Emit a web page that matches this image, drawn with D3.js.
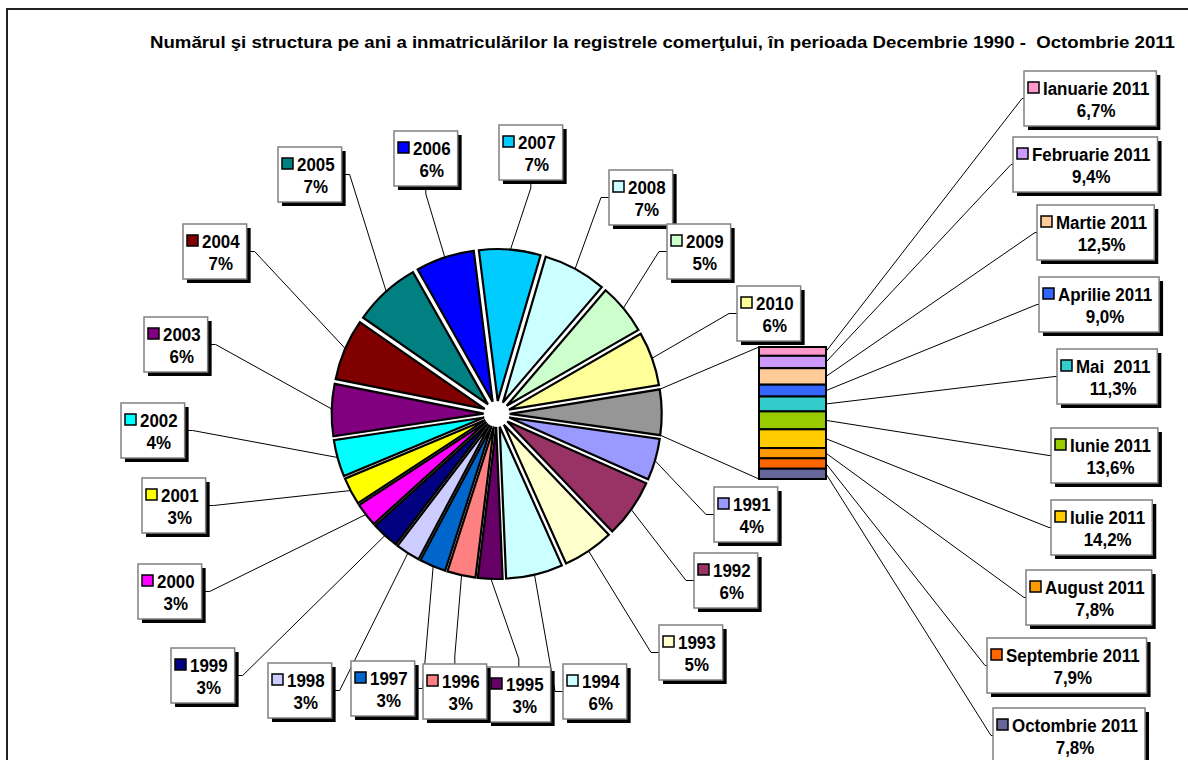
<!DOCTYPE html>
<html>
<head>
<meta charset="utf-8">
<script src="https://cdn.jsdelivr.net/npm/d3@7"></script>
<style>
  body { margin: 0; background: #fff; }
  svg text { font-family: "Liberation Sans", Arial, sans-serif; font-weight: bold; fill: #000; }
</style>
</head>
<body>
<div class="canvas"></div>
<script>
// pie slices, clockwise from the grey "2011" slice (which is split in the bar)
const years = ['2011', '1991', '1992', '1993', '1994', '1995', '1996', '1997', '1998', '1999', '2000',
               '2001', '2002', '2003', '2004', '2005', '2006', '2007', '2008', '2009', '2010'];
const yearShares = [4.8, 4.4, 6.2, 5.4, 6.0, 2.6, 3.0, 2.8, 2.6, 2.9, 2.5,
                    2.9, 3.9, 5.5, 6.5, 7.1, 6.2, 6.5, 6.7, 5.4, 5.7];
const yearColours = ['#969696', '#9999FF', '#993366', '#FFFFCC', '#CCFFFF', '#660066', '#FF8080', '#0066CC',
                     '#CCCCFF', '#000080', '#FF00FF', '#FFFF00', '#00FFFF', '#800080', '#800000', '#008080',
                     '#0000FF', '#00CCFF', '#CCFFFF', '#CCFFCC', '#FFFF99'];

// the 2011 bar, top to bottom
const months = ['Ianuarie 2011', 'Februarie 2011', 'Martie 2011', 'Aprilie 2011', 'Mai  2011',
                'Iunie 2011', 'Iulie 2011', 'August 2011', 'Septembrie 2011', 'Octombrie 2011'];
const monthShares = [6.7, 9.4, 12.5, 9.0, 11.3, 13.6, 14.2, 7.8, 7.9, 7.8];
const monthColours = ['#FF99CC', '#CC99FF', '#FFCC99', '#3366FF', '#33CCCC',
                      '#99CC00', '#FFCC00', '#FF9900', '#FF6600', '#666699'];

const title = 'Numărul şi structura pe ani a inmatriculărilor la registrele comerţului, în perioada Decembrie 1990 -  Octombrie 2011';

// where the data labels were dragged to (top-left of box, side the leader attaches to)
const yearLabelAt = {
    '1991': [714, 487, 'l'], '1992': [694, 553, 'l'], '1993': [659, 625, 'l'], '1994': [563, 664, 'l'],
    '1995': [487, 667, 't'], '1996': [423, 664, 't'], '1997': [351, 661, 'r'], '1998': [268, 663, 'r'],
    '1999': [171, 648, 'r'], '2000': [138, 564, 'r'], '2001': [142, 478, 'r'], '2002': [121, 403, 'r'],
    '2003': [144, 317, 'r'], '2004': [183, 224, 'r'], '2005': [278, 147, 'r'], '2006': [394, 131, 'b'],
    '2007': [499, 125, 'b'], '2008': [609, 170, 'l'], '2009': [667, 224, 'l'], '2010': [737, 286, 'l']
};
const monthLabelAt = [[1024, 71], [1013, 137], [1037, 205], [1039, 277], [1057, 349],
                      [1051, 428], [1051, 500], [1026, 570], [987, 638], [993, 708]];

const dims = {width: 1188, height: 760};
const cent = {x: 496.7, y: 414};
const radius = 152, explode = 13;
const bar = {x: 759, width: 67, top: 347, bottom: 479};
const startDeg = 80.7;

const svg = d3.select('.canvas')
    .append('svg')
    .attr('width', dims.width)
    .attr('height', dims.height);

// chart frame
svg.append('rect')
    .attr('x', 7).attr('y', 9)
    .attr('width', 1300).attr('height', 900)
    .attr('fill', 'none')
    .attr('stroke', '#222')
    .attr('stroke-width', 2);

svg.append('text')
    .attr('x', 1175).attr('y', 48)
    .attr('text-anchor', 'end')
    .attr('font-size', 16.5)
    .attr('textLength', 1025)
    .attr('lengthAdjust', 'spacingAndGlyphs')
    .style('white-space', 'pre')
    .text(title);

const leaders = svg.append('g');
const graph = svg.append('g');
const barGroup = svg.append('g');
const labels = svg.append('g');

const pie = d3.pie()
    .sort(null)
    .value(d => d.share)
    .startAngle(startDeg * Math.PI / 180)
    .endAngle(startDeg * Math.PI / 180 + 2 * Math.PI);

const arcPath = d3.arc()
    .innerRadius(0)
    .outerRadius(radius);

const slices = pie(years.map((y, i) => ({year: y, share: yearShares[i], colour: yearColours[i]})));
const mid = d => (d.startAngle + d.endAngle) / 2;
const polar = (a, r, o = [cent.x, cent.y]) => [o[0] + r * Math.sin(a), o[1] - r * Math.cos(a)];

graph.selectAll('path')
    .data(slices)
    .enter()
    .append('path')
    .attr('d', arcPath)
    .attr('transform', d => {
        const [x, y] = polar(mid(d), explode);
        return `translate(${x}, ${y})`;
    })
    .attr('fill', d => d.data.colour)
    .attr('stroke', '#000')
    .attr('stroke-width', 2.2);

// bar of pie
const yBar = d3.scaleLinear()
    .domain([0, d3.sum(monthShares)])
    .range([bar.top, bar.bottom]);
const ends = d3.cumsum(monthShares);
const stack = monthShares.map((v, i) => ({
    name: months[i], share: v, colour: monthColours[i], y0: ends[i] - v, y1: ends[i]
}));

barGroup.selectAll('rect')
    .data(stack)
    .enter()
    .append('rect')
    .attr('x', bar.x)
    .attr('width', bar.width)
    .attr('y', d => yBar(d.y0))
    .attr('height', d => yBar(d.y1) - yBar(d.y0))
    .attr('fill', d => d.colour)
    .attr('stroke', '#000')
    .attr('stroke-width', 2);

// series lines from the grey slice to the bar
const other = slices[0];
const apex = polar(mid(other), explode);
[[other.startAngle, bar.top], [other.endAngle, bar.bottom]].forEach(([a, yy]) => {
    const p = polar(a, radius, apex);
    leaders.append('line')
        .attr('x1', p[0]).attr('y1', p[1])
        .attr('x2', bar.x).attr('y2', yy)
        .attr('stroke', '#000')
        .attr('stroke-width', 1);
});

// data labels
const pad = {l: 4, key: 12, gap: 3, r: 7, h: 55};
const fontSize = 18, squeeze = 0.94;   // the original text is a bit narrow and tall
const fmtMonth = d3.formatLocale({decimal: ',', thousands: '.', grouping: [3], currency: ['', '']}).format('.1f');

const drawLabel = (x, y, side, name, valueText, colour, target, elbow) => {
    const g = labels.append('g');
    const shadow = g.append('rect');
    const box = g.append('rect');
    const t1 = g.append('text').attr('font-size', fontSize).style('white-space', 'pre').text(name);
    const t2 = g.append('text').attr('font-size', fontSize).text(valueText);
    const w1 = t1.node().getComputedTextLength() * squeeze;
    const w2 = t2.node().getComputedTextLength() * squeeze;
    t1.attr('textLength', w1).attr('lengthAdjust', 'spacingAndGlyphs');
    t2.attr('textLength', w2).attr('lengthAdjust', 'spacingAndGlyphs');
    const tw = Math.max(w1, w2);
    const w = pad.l + pad.key + pad.gap + tw + pad.r;
    const tc = x + pad.l + pad.key + pad.gap + tw / 2;

    shadow.attr('x', x + 4).attr('y', y + 4).attr('width', w).attr('height', pad.h).attr('fill', '#000');
    box.attr('x', x).attr('y', y).attr('width', w).attr('height', pad.h)
        .attr('fill', '#fff').attr('stroke', '#808080').attr('stroke-width', 1.5);
    t1.attr('x', tc).attr('y', y + 24).attr('text-anchor', 'middle');
    t2.attr('x', tc).attr('y', y + 46).attr('text-anchor', 'middle');
    g.append('rect')
        .attr('x', x + pad.l).attr('y', y + 11)
        .attr('width', pad.key - 1).attr('height', pad.key - 1)
        .attr('fill', colour).attr('stroke', '#000').attr('stroke-width', 1.5);

    let e, b;
    if (side === 'l') { e = [x, y + pad.h / 2]; b = [x - elbow, e[1]]; }
    else if (side === 'r') { e = [x + w, y + pad.h / 2]; b = [e[0] + elbow, e[1]]; }
    else if (side === 't') { e = [x + w / 2, y]; b = [e[0], y - elbow]; }
    else { e = [x + w / 2, y + pad.h]; b = [e[0], e[1] + elbow]; }
    leaders.append('path')
        .attr('d', d3.line()([e, b, target]))
        .attr('fill', 'none')
        .attr('stroke', '#000')
        .attr('stroke-width', 1);
};

slices.slice(1).forEach(d => {
    const [x, y, side] = yearLabelAt[d.data.year];
    drawLabel(x, y, side, d.data.year, Math.round(d.data.share) + '%', d.data.colour,
        polar(mid(d), explode + radius - 2), 8);
});

stack.forEach((d, i) => {
    const [x, y] = monthLabelAt[i];
    drawLabel(x, y, 'l', d.name, fmtMonth(d.share) + '%', d.colour,
        [bar.x + bar.width, yBar((d.y0 + d.y1) / 2)], 2);
});
</script>
</body>
</html>
